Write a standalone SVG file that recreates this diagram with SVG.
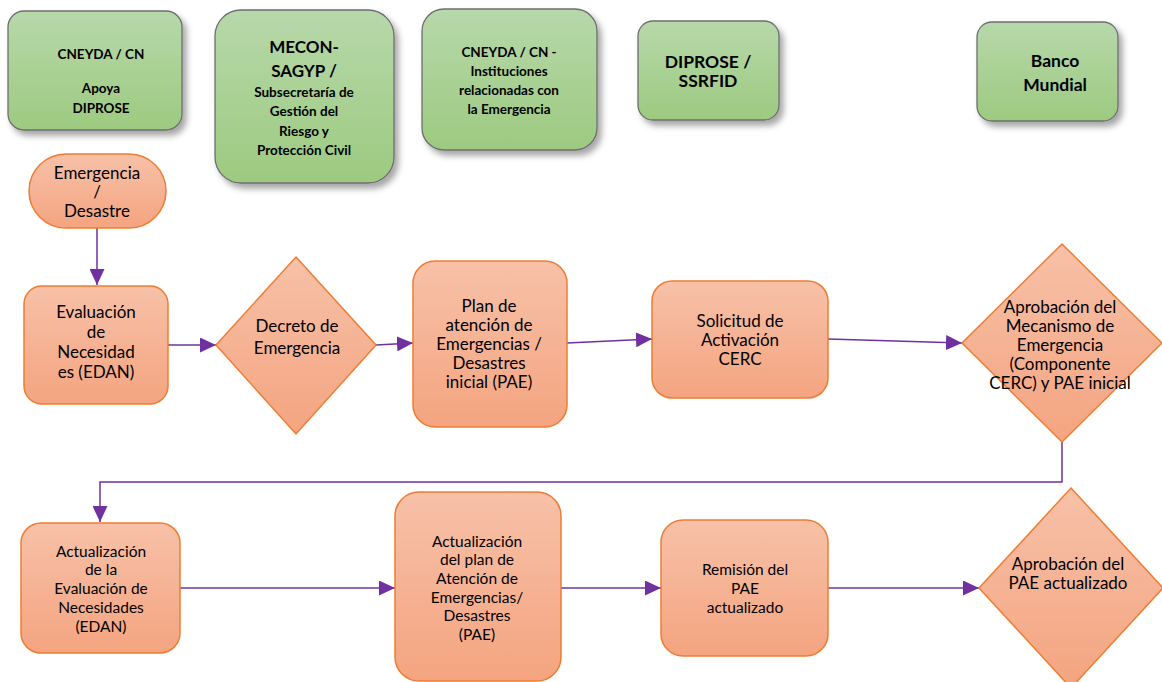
<svg xmlns="http://www.w3.org/2000/svg" width="1162" height="682" viewBox="0 0 1162 682">
<defs>
<linearGradient id="gGreen" x1="0" y1="0" x2="0" y2="1">
<stop offset="0" stop-color="#b7d8aa"/>
<stop offset="1" stop-color="#9dca80"/>
</linearGradient>
<linearGradient id="gOrange" x1="0" y1="0" x2="0" y2="1">
<stop offset="0" stop-color="#f7c1a8"/>
<stop offset="1" stop-color="#f4a480"/>
</linearGradient>
<filter id="shadow" x="-20%" y="-20%" width="150%" height="150%">
<feDropShadow dx="4" dy="5" stdDeviation="3" flood-color="#000" flood-opacity="0.35"/>
</filter>
<marker id="arr" markerUnits="userSpaceOnUse" markerWidth="17" markerHeight="15" refX="16" refY="7.5" orient="auto">
<path d="M0,0 L16,7.5 L0,15 z" fill="#7030a0"/>
</marker>
</defs>
<style>
.green{fill:url(#gGreen);stroke:#6e6e6e;stroke-width:1.3;filter:url(#shadow)}
.orange{fill:url(#gOrange);stroke:#ed7d31;stroke-width:1.5}
.gt{font-family:Lato,"Liberation Sans",sans-serif;font-weight:bold;fill:#000;text-anchor:middle}
.ot{font-family:Lato,"Liberation Sans",sans-serif;font-size:17px;fill:#000;text-anchor:middle}
.bt{font-family:Lato,"Liberation Sans",sans-serif;font-size:15.5px;fill:#000;text-anchor:middle}
.conn{fill:none;stroke:#7030a0;stroke-width:1.5;marker-end:url(#arr)}
</style>
<rect width="1162" height="682" fill="#fff"/>

<g id="n-cneyda-apoya">
<rect class="green" x="8" y="11" width="174" height="119" rx="16"/>
<text class="gt" font-size="13.5" x="101" y="59">CNEYDA / CN</text>
<text class="gt" font-size="13.5" x="101" y="93">Apoya</text>
<text class="gt" font-size="13.5" x="101" y="113">DIPROSE</text>
</g>
<g id="n-mecon">
<rect class="green" x="215" y="10" width="179" height="173" rx="26"/>
<text class="gt" font-size="17" x="304" y="53">MECON-</text>
<text class="gt" font-size="17" x="304" y="77">SAGYP /</text>
<text class="gt" font-size="13.5" x="304" y="97">Subsecretaría de</text>
<text class="gt" font-size="13.5" x="304" y="116">Gestión del</text>
<text class="gt" font-size="13.5" x="304" y="136">Riesgo y</text>
<text class="gt" font-size="13.5" x="304" y="155">Protección Civil</text>
</g>
<g id="n-cneyda-inst">
<rect class="green" x="422" y="9" width="175" height="141" rx="22"/>
<text class="gt" font-size="13.5" x="509" y="57">CNEYDA / CN -</text>
<text class="gt" font-size="13.5" x="509" y="76">Instituciones</text>
<text class="gt" font-size="13.5" x="509" y="95">relacionadas con</text>
<text class="gt" font-size="13.5" x="509" y="114">la Emergencia</text>
</g>
<g id="n-diprose">
<rect class="green" x="638" y="21" width="141" height="99" rx="15"/>
<text class="gt" font-size="17.5" x="708" y="68">DIPROSE /</text>
<text class="gt" font-size="17.5" x="708" y="87">SSRFID</text>
</g>
<g id="n-banco">
<rect class="green" x="977" y="22" width="141" height="99" rx="15"/>
<text class="gt" font-size="17.5" x="1055" y="67">Banco</text>
<text class="gt" font-size="17.5" x="1055" y="91">Mundial</text>
</g>

<g id="connectors">
<path class="conn" d="M97 228 V285"/>
<path class="conn" d="M168 345 H216"/>
<path class="conn" d="M376 345 L413 343"/>
<path class="conn" d="M567 343 L652 339"/>
<path class="conn" d="M828 339 L962 343"/>
<path class="conn" d="M1062 442 V482 H100 V522"/>
<path class="conn" d="M180 588 H395"/>
<path class="conn" d="M561 588 H661"/>
<path class="conn" d="M828 588 H979"/>
</g>

<g id="n-emergencia">
<rect class="orange" x="29" y="154" width="137" height="74" rx="37"/>
<text class="ot" x="97" y="179">Emergencia</text>
<text class="ot" x="97" y="198">/</text>
<text class="ot" x="97" y="217">Desastre</text>
</g>
<g id="n-edan">
<rect class="orange" x="24" y="286" width="144" height="118" rx="18"/>
<text class="ot" x="96" y="318">Evaluación</text>
<text class="ot" x="96" y="338">de</text>
<text class="ot" x="96" y="358">Necesidad</text>
<text class="ot" x="96" y="378">es (EDAN)</text>
</g>
<g id="n-decreto">
<polygon class="orange" points="296,257 376,345 296,434 216,345"/>
<text class="ot" x="297" y="332">Decreto de</text>
<text class="ot" x="297" y="354">Emergencia</text>
</g>
<g id="n-plan">
<rect class="orange" x="413" y="261" width="154" height="166" rx="22"/>
<text class="ot" x="489" y="312">Plan de</text>
<text class="ot" x="489" y="331">atención de</text>
<text class="ot" x="489" y="350">Emergencias /</text>
<text class="ot" x="489" y="369">Desastres</text>
<text class="ot" x="489" y="388">inicial (PAE)</text>
</g>
<g id="n-solicitud">
<rect class="orange" x="652" y="281" width="176" height="117" rx="20"/>
<text class="ot" x="740" y="327">Solicitud de</text>
<text class="ot" x="740" y="346">Activación</text>
<text class="ot" x="740" y="365">CERC</text>
</g>
<g id="n-aprobacion-mec">
<polygon class="orange" points="1062,244 1162,343 1062,442 962,343"/>
<text class="ot" font-size="16.5" x="1060" y="313">Aprobación del</text>
<text class="ot" font-size="16.5" x="1060" y="332">Mecanismo de</text>
<text class="ot" font-size="16.5" x="1060" y="351">Emergencia</text>
<text class="ot" font-size="16.5" x="1060" y="370">(Componente</text>
<text class="ot" font-size="16.5" x="1060" y="389">CERC) y PAE inicial</text>
</g>
<g id="n-act-edan">
<rect class="orange" x="21" y="523" width="159" height="130" rx="20"/>
<text class="bt" x="101" y="557">Actualización</text>
<text class="bt" x="101" y="575">de la</text>
<text class="bt" x="101" y="594">Evaluación de</text>
<text class="bt" x="101" y="613">Necesidades</text>
<text class="bt" x="101" y="632">(EDAN)</text>
</g>
<g id="n-act-plan">
<rect class="orange" x="395" y="492" width="166" height="189" rx="24"/>
<text class="bt" x="477" y="547">Actualización</text>
<text class="bt" x="477" y="565">del plan de</text>
<text class="bt" x="477" y="584">Atención de</text>
<text class="bt" x="477" y="603">Emergencias/</text>
<text class="bt" x="477" y="621">Desastres</text>
<text class="bt" x="477" y="640">(PAE)</text>
</g>
<g id="n-remision">
<rect class="orange" x="661" y="520" width="167" height="136" rx="22"/>
<text class="bt" x="745" y="575">Remisión del</text>
<text class="bt" x="745" y="594">PAE</text>
<text class="bt" x="745" y="613">actualizado</text>
</g>
<g id="n-aprobacion-pae">
<polygon class="orange" points="1071,488 1163,588 1071,688 979,588"/>
<text class="ot" x="1068" y="570">Aprobación del</text>
<text class="ot" x="1068" y="589">PAE actualizado</text>
</g>
</svg>
